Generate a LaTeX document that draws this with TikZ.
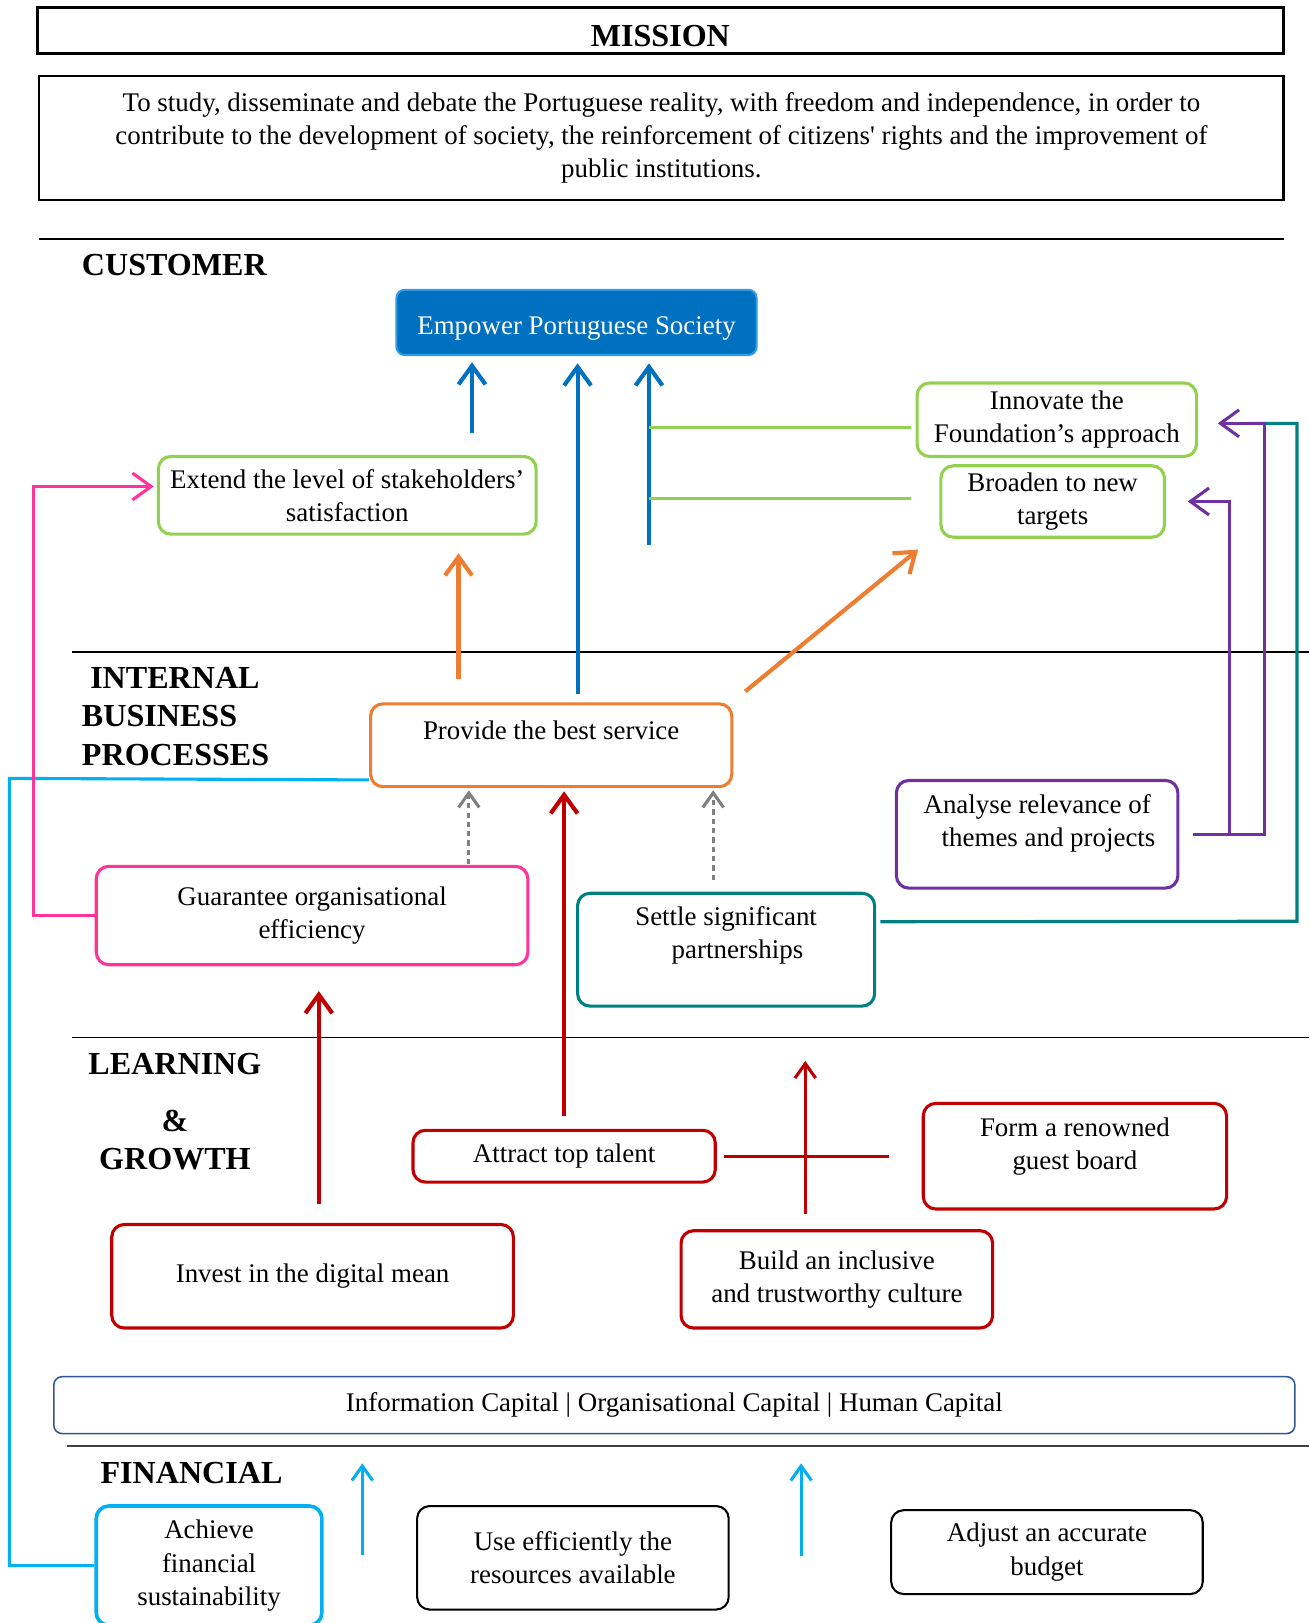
\documentclass[tikz,border=0pt]{standalone}
\usepackage{fontspec}
\setmainfont{Liberation Serif}
\usetikzlibrary{arrows.meta,calc}
\definecolor{empblue}{HTML}{0070C0}
\definecolor{empedge}{HTML}{2E9BE6}
\definecolor{leafgreen}{HTML}{92D050}
\definecolor{servorange}{HTML}{ED7D31}
\definecolor{hotpink}{HTML}{FF3399}
\definecolor{skyblue}{HTML}{00B0F0}
\definecolor{deepred}{HTML}{C00000}
\definecolor{seateal}{HTML}{008080}
\definecolor{grape}{HTML}{7030A0}
\definecolor{capblue}{HTML}{2F5597}
\begin{document}
\begin{tikzpicture}[
x=1pt,y=-1pt,
font=\fontsize{26}{32}\selectfont,
box/.style={draw,rounded corners=12pt,line width=3pt,align=center,inner sep=0pt},
head/.style={font=\fontsize{31}{37}\selectfont\bfseries,align=left,anchor=west,inner sep=0pt},
rule/.style={line width=1.2pt},
plain/.style={line width=3pt},
uparrow/.style={line width=4pt,-{Straight Barb[length=18pt,width=26pt]}},
thinarrow/.style={line width=3pt,-{Straight Barb[length=14pt,width=20pt]}},
dotarrow/.style={line width=3pt,gray,dash pattern=on 5pt off 4pt,-{Straight Barb[length=14pt,width=20pt]},shorten >=2pt},
]
\useasboundingbox (0,0) rectangle (1265,1568);

\node[draw,line width=3pt,minimum width=1204pt,minimum height=45pt,inner sep=0pt,text height=31pt,font=\fontsize{31}{37}\selectfont\bfseries] (mission) at (638,29.5) {MISSION};
\node[draw,line width=2pt,minimum width=1202pt,minimum height=120pt,align=center,inner sep=0pt] (statement) at (639,133)
  {To study, disseminate and debate the Portuguese reality, with freedom and independence, in order to\\
   contribute to the development of society, the reinforcement of citizens\textquotesingle{} rights and the improvement of\\
   public institutions.};
\draw[line width=2pt] (38,231) -- (1240,231);
\node[head] (customer) at (79,256) {CUSTOMER};

\node[box,fill=empblue,draw=empedge,rounded corners=8pt,line width=2pt,text=white,text height=29pt,minimum width=348pt,minimum height=63pt] (society) at (557,311.5) {Empower Portuguese Society};
\node[box,draw=leafgreen,minimum width=270pt,minimum height=71pt] (innovate) at (1021,405.5) {Innovate the\\Foundation’s approach};
\node[box,draw=leafgreen,minimum width=216pt,minimum height=69pt] (broaden) at (1017,484.5) {Broaden to new\\targets};
\node[box,draw=leafgreen,minimum width=365pt,minimum height=75pt] (extend) at (335.5,478.5) {Extend the level of stakeholders’\\satisfaction};

\draw[rule] (70,630) -- (1265,630);
\node[head] (internal) at (79,692) {\hspace*{8pt}INTERNAL\\BUSINESS\\PROCESSES};
\node[box,draw=servorange,minimum width=349pt,minimum height=80pt,text depth=30pt] (provide) at (532.5,720) {Provide the best service};
\node[box,draw=hotpink,minimum width=417pt,minimum height=95pt] (guarantee) at (301.5,884.5) {Guarantee organisational\\efficiency};
\node[box,draw=seateal,minimum width=287pt,minimum height=109pt,text depth=34pt] (settle) at (701.5,917.5) {Settle significant\\\hspace*{22pt}partnerships};
\node[box,draw=grape,minimum width=272pt,minimum height=104pt,text depth=26pt] (analyse) at (1002,806) {Analyse relevance of\\\hspace*{22pt}themes and projects};

\draw[rule] (70,1002) -- (1265,1002);
\node[head,anchor=center,align=center] (learning) at (169,1074) {LEARNING\\[18pt]\&\\GROWTH};
\node[box,draw=deepred,minimum width=292pt,minimum height=50pt] (attract) at (545,1117) {Attract top talent};
\node[box,draw=deepred,minimum width=293pt,minimum height=102pt,text depth=24pt] (form) at (1038.5,1117) {Form a renowned\\guest board};
\node[box,draw=deepred,minimum width=388pt,minimum height=100pt] (invest) at (302,1233) {Invest in the digital mean};
\node[box,draw=deepred,minimum width=301pt,minimum height=94pt] (build) at (808.5,1236) {Build an inclusive\\and trustworthy culture};

\node[box,draw=capblue,rounded corners=8pt,line width=1.5pt,minimum width=1199pt,minimum height=55pt] (capital) at (651.5,1357.5) {Information Capital | Organisational Capital | Human Capital};
\draw[rule,line width=1.5pt,black!75] (65,1397) -- (1265,1397);
\node[head] (financial) at (97,1423) {FINANCIAL};
\node[box,draw=skyblue,line width=3.5pt,minimum width=218pt,minimum height=115pt] (achieve) at (202,1512.5) {Achieve\\financial\\sustainability};
\node[box,draw=black,line width=2pt,minimum width=301pt,minimum height=100pt] (use) at (553.5,1505) {Use efficiently the\\resources available};
\node[box,draw=black,line width=2pt,minimum width=301pt,minimum height=81pt] (adjust) at (1011.5,1499.5) {Adjust an accurate\\budget};

\coordinate (s1) at (456,418);
\coordinate (s2) at (558,670);
\coordinate (s3) at (627,527);
\draw[uparrow,empblue,shorten >=6pt] (s1) -- (s1 |- society.south);
\draw[uparrow,empblue,shorten >=7pt] (s2) -- (s2 |- society.south);
\draw[uparrow,empblue,shorten >=7pt] (s3) -- (s3 |- society.south);
\coordinate (g1) at (627,413);
\coordinate (g2) at (627,482);
\draw[plain,leafgreen,shorten >=4pt] (g1) -- (g1 -| innovate.west);
\draw[plain,leafgreen,shorten >=4pt] (g2) -- (g2 -| innovate.west);

\coordinate (o1) at (443,656);
\coordinate (o2) at (720,668);
\coordinate (o3) at (887,531);
\draw[uparrow,servorange,shorten >=17pt] (o1) -- (o1 |- extend.south);
\draw[uparrow,servorange] (o2) -- (o3);

\coordinate (c1) at (9,752);
\draw[plain,skyblue] ($(provide.south west)+(0,-8)$) -- (c1) |- (achieve.west);
\coordinate (p1) at (32,470);
\draw[plain,hotpink,-{Straight Barb[length=18pt,width=26pt]},shorten >=3pt] (guarantee.west) -| (p1) -- (p1 -| extend.west);

\coordinate (d1) at (453,835);
\coordinate (d2) at (689,850);
\draw[dotarrow] (d1) -- (d1 |- provide.south);
\draw[dotarrow] (d2) -- (d2 |- provide.south);

\draw[uparrow,deepred,shorten <=12pt,shorten >=3pt] (attract.north) -- (attract.north |- provide.south);
\coordinate (r1) at (308,1163);
\draw[uparrow,deepred,shorten >=24pt] (r1) -- (r1 |- guarantee.south);
\coordinate (r2) at (778,1173);
\coordinate (r3) at (778,1025);
\draw[thinarrow,deepred] (r2) -- (r3);
\draw[plain,deepred,shorten <=7pt,shorten >=32pt] (attract.east) -- (attract.east -| form.west);

\coordinate (t1) at (1253,890);
\coordinate (t2) at (1206,409);
\draw[plain,seateal,shorten <=4pt] ($(settle.east)+(0,-27)$) -- (t1) |- (t2);
\coordinate (u1) at (1222,409);
\coordinate (u2) at (1188,806);
\draw[plain,grape,-{Straight Barb[length=18pt,width=26pt]},shorten <=13pt,shorten >=19pt] (analyse.east) -| (u1) -- (u1 -| innovate.east);
\draw[plain,grape,-{Straight Barb[length=18pt,width=26pt]},shorten >=21pt] (u2) |- (broaden.east);

\coordinate (f1) at (350,1502);
\coordinate (f2) at (774,1503);
\draw[thinarrow,skyblue,shorten >=28pt] (f1) -- (f1 |- capital.south);
\draw[thinarrow,skyblue,shorten >=28pt] (f2) -- (f2 |- capital.south);
\end{tikzpicture}
\end{document}
